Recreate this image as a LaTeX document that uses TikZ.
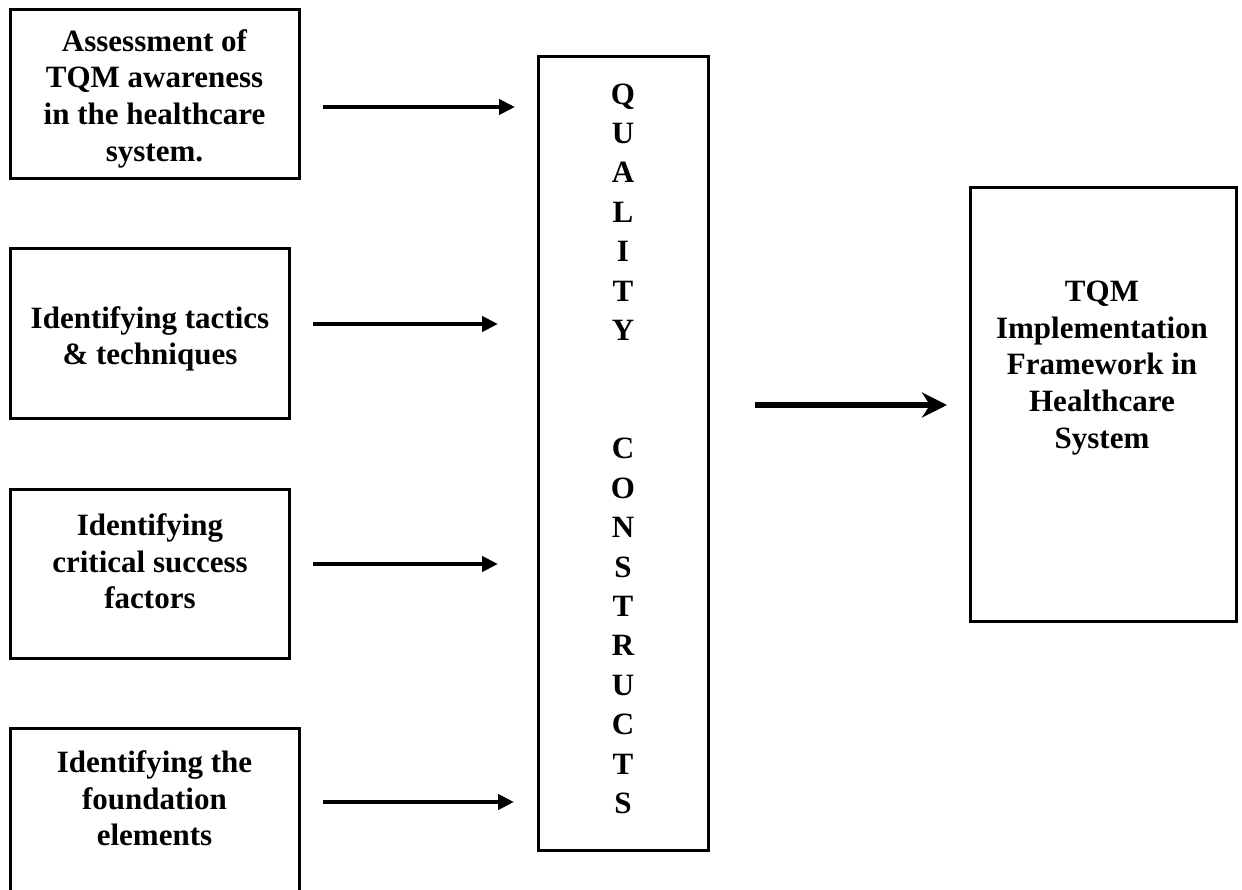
\documentclass[tikz,border=0pt]{standalone}
\usepackage{fontspec}
\setmainfont{Liberation Serif}
\usetikzlibrary{arrows.meta}
\begin{document}
\begin{tikzpicture}[x=1pt,y=-1pt,
  boxnode/.style n args={2}{draw, line width=3pt, rectangle, inner sep=0pt,
    minimum width=#1pt, minimum height=#2pt},
  txt/.style={font=\fontsize{31}{36.7}\selectfont\bfseries, align=center, inner sep=0pt},
  coltxt/.style={font=\fontsize{31}{39.4}\selectfont\bfseries, align=center, inner sep=0pt},
  smallarrow/.style={line width=4.5pt, -{Triangle[length=16pt,width=15pt]}},
  bigarrow/.style={line width=5.5pt, -{Stealth[length=25pt,width=25pt,inset=8pt]}}]
\useasboundingbox (0,0) rectangle (1242,890);
\fill[white] (0,0) rectangle (1242,890);
\clip (0,0) rectangle (1242,890);

% boxes
\node[boxnode={289}{169}] (b1) at (154.5,94.5) {};
\node[boxnode={279}{169}] (b2) at (149.5,333.5) {};
\node[boxnode={279}{169}] (b3) at (149.5,573.5) {};
\node[boxnode={289}{169}] (b4) at (154.5,812.5) {};
\node[boxnode={170}{793}] (mid) at (623,453.5) {};
\node[boxnode={266}{433}] (res) at (1103,404.5) {};

% texts
\node[txt] (t1) at (154.5,98.5) {Assessment of\\TQM awareness\\in the healthcare\\system.};
\node[txt] (t2) at (150,339) {Identifying tactics\\\& techniques};
\node[txt] (t3) at (150,561.5) {Identifying\\critical success\\factors};
\node[txt] (t4) at (154.5,798.5) {Identifying the\\foundation\\elements};
\node[coltxt] (q) at (623,212) {Q\\U\\A\\L\\I\\T\\Y};
\node[coltxt] (c) at (623,626) {C\\O\\N\\S\\T\\R\\U\\C\\T\\S};
\node[txt] (tr) at (1102,368) {TQM\\Implementation\\Framework in\\Healthcare\\System};

% arrow end points
\coordinate (a1s) at (323,107);  \coordinate (a1e) at (515,107);
\coordinate (a2s) at (313,324);  \coordinate (a2e) at (498,324);
\coordinate (a3s) at (313,564);  \coordinate (a3e) at (498,564);
\coordinate (a4s) at (323,802);  \coordinate (a4e) at (514,802);
\coordinate (a5s) at (755,405);  \coordinate (a5e) at (947,405);

\draw[smallarrow] (a1s) -- (a1e);
\draw[smallarrow] (a2s) -- (a2e);
\draw[smallarrow] (a3s) -- (a3e);
\draw[smallarrow] (a4s) -- (a4e);
\draw[bigarrow] (a5s) -- (a5e);
\end{tikzpicture}
\end{document}
